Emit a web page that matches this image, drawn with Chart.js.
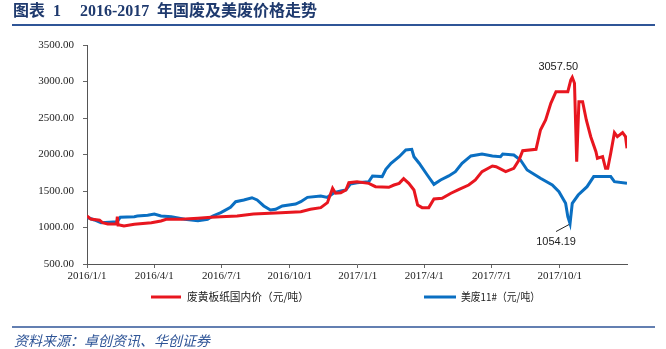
<!DOCTYPE html>
<html>
<head>
<meta charset="utf-8">
<script src="https://cdn.jsdelivr.net/npm/chart.js@4/dist/chart.umd.min.js"></script>
<style>
  html, body { margin: 0; padding: 0; background: #fff; }
  #wrap { width: 666px; height: 349px; position: relative; }
</style>
</head>
<body>
<div id="wrap"><canvas id="c" width="666" height="349"></canvas></div>
<script>
// 废黄板纸国内价（元/吨）
const redDates = [
  '2016-01-01','2016-01-06','2016-01-18','2016-01-22','2016-01-29','2016-02-10','2016-02-11','2016-02-12',
  '2016-02-14','2016-02-20','2016-03-05','2016-03-28','2016-04-10','2016-04-17','2016-05-07','2016-05-30',
  '2016-06-17','2016-06-30','2016-07-22','2016-08-13','2016-09-19','2016-10-16','2016-10-29','2016-11-12',
  '2016-11-21','2016-11-28','2016-12-02','2016-12-09','2016-12-16','2016-12-20','2016-12-31',
  '2017-01-16','2017-01-25','2017-02-12','2017-02-19','2017-02-26','2017-03-04','2017-03-11','2017-03-18',
  '2017-03-23','2017-03-29','2017-04-07','2017-04-14','2017-04-25','2017-05-07','2017-05-18','2017-05-31',
  '2017-06-09','2017-06-18','2017-07-02','2017-07-07','2017-07-20','2017-07-31','2017-08-07','2017-08-12',
  '2017-08-30','2017-09-05','2017-09-12','2017-09-19','2017-09-26','2017-10-12','2017-10-16','2017-10-18',
  '2017-10-21','2017-10-24','2017-10-27','2017-11-01','2017-11-06','2017-11-12','2017-11-19','2017-11-21',
  '2017-11-28','2017-12-02','2017-12-05','2017-12-09','2017-12-14','2017-12-18','2017-12-25','2017-12-29',
  '2017-12-31'
];
const redValues = [
  1158,1116,1100,1066,1048,1048,1150,1034,
  1034,1020,1044,1066,1089,1112,1112,1126,
  1140,1148,1158,1185,1203,1217,1249,1272,
  1340,1537,1469,1477,1514,1614,1628,
  1605,1559,1550,1582,1605,1669,1605,1514,
  1308,1272,1272,1390,1400,1469,1523,1582,
  1651,1765,1843,1833,1765,1811,1925,2052,
  2071,2336,2473,2701,2861,2861,3021,3057.5,
  2976,1902,2724,2724,2473,2244,2039,1948,
  1970,1811,1811,2016,2299,2244,2299,2244,
  2085
];

// 美废11#（元/吨）
const blueDates = [
  '2016-01-01','2016-01-11','2016-01-20','2016-02-11','2016-02-15','2016-03-05','2016-03-09','2016-03-23',
  '2016-04-01','2016-04-10','2016-04-24','2016-05-12','2016-05-30','2016-06-12','2016-06-19','2016-06-30',
  '2016-07-13','2016-07-20','2016-07-31','2016-08-11','2016-08-18','2016-08-27','2016-09-05','2016-09-12',
  '2016-09-21','2016-10-09','2016-10-16','2016-10-25','2016-11-12','2016-11-21','2016-11-30','2016-12-09',
  '2016-12-16','2016-12-22','2016-12-31',
  '2017-01-16','2017-01-21','2017-02-03','2017-02-08','2017-02-15','2017-02-26','2017-03-07','2017-03-15',
  '2017-03-18','2017-03-25','2017-04-05','2017-04-14','2017-04-23','2017-05-04','2017-05-13','2017-05-22',
  '2017-06-03','2017-06-18','2017-07-02','2017-07-13','2017-07-16','2017-07-31','2017-08-09','2017-08-18',
  '2017-09-05','2017-09-21','2017-09-30','2017-10-09','2017-10-12','2017-10-15','2017-10-18','2017-10-26',
  '2017-11-07','2017-11-16','2017-12-09','2017-12-14','2017-12-31'
];
const blueValues = [
  1140,1103,1066,1080,1140,1148,1158,1167,
  1185,1158,1148,1112,1093,1112,1158,1203,
  1277,1354,1377,1408,1377,1295,1240,1249,
  1295,1322,1354,1413,1431,1413,1477,1500,
  1514,1596,1614,
  1628,1706,1697,1797,1880,1970,2062,2071,
  1970,1880,1719,1591,1651,1706,1765,1880,
  1980,2007,1980,1970,2007,1993,1925,1788,
  1674,1582,1491,1331,1148,1054.19,1331,1445,
  1559,1697,1697,1628,1605
];

const xTickLabels = ['2016/1/1','2016/4/1','2016/7/1','2016/10/1','2017/1/1','2017/4/1','2017/7/1','2017/10/1'];
const yTickValues = [500, 1000, 1500, 2000, 2500, 3000, 3500];

const seriesNames = ['废黄板纸国内价（元/吨）', '美废11#（元/吨）'];
const seriesColors = ['#e8161f', '#0a6fc2'];

const BASE = Date.UTC(2016, 0, 1);
function dayOffset(s) {
  const p = s.split(/[-\/]/).map(Number);
  return Math.round((Date.UTC(p[0], p[1] - 1, p[2]) - BASE) / 86400000);
}
const X_END = dayOffset('2017-12-31');
const xTickDays = xTickLabels.map(dayOffset);

function toPoints(dates, values) {
  return dates.map((d, i) => ({ x: dayOffset(d), y: values[i] }));
}

const serif = "'Liberation Serif', 'Times New Roman', serif";
const cjk = "'Noto Sans CJK SC', sans-serif";

// draw text squeezed to a given width when it would run longer
function fitText(ctx, text, x, y, maxW) {
  const w = ctx.measureText(text).width;
  if (w <= maxW) { ctx.fillText(text, x, y); return; }
  ctx.save();
  ctx.translate(x, y);
  ctx.scale(maxW / w, 1);
  ctx.fillText(text, 0, 0);
  ctx.restore();
}

// Frame: title, rules, source line, legend and the two value callouts
const decor = {
  id: 'decor',
  afterDatasetsDraw(chart) {
    const ctx = chart.ctx;
    const xs = chart.scales.x, ys = chart.scales.y;
    ctx.save();

    // title
    ctx.fillStyle = '#1f3a6e';
    ctx.textBaseline = 'middle';
    ctx.textAlign = 'left';
    ctx.font = "bold 16px " + serif + ", " + cjk;
    ctx.fillText('图表', 13, 12);
    ctx.fillText('1', 53, 12);
    ctx.fillText('2016-2017', 80, 12);
    ctx.fillText('年国废及美废价格走势', 157, 12);

    // rule under title
    ctx.strokeStyle = '#2f5597';
    ctx.lineWidth = 2;
    ctx.beginPath(); ctx.moveTo(12, 25); ctx.lineTo(655, 25); ctx.stroke();

    // rule above source
    ctx.lineWidth = 1.5;
    ctx.beginPath(); ctx.moveTo(12, 327); ctx.lineTo(655, 327); ctx.stroke();

    // source
    ctx.fillStyle = '#2f5597';
    ctx.font = "italic 14px " + cjk;
    ctx.fillText('资料来源：卓创资讯、华创证券', 14, 341);

    // legend
    const legendItems = [
      { x0: 151, x1: 181, tx: 187, w: 122 },
      { x0: 424, x1: 456, tx: 461, w: 79 }
    ];
    ctx.font = "11px " + cjk;
    legendItems.forEach((it, i) => {
      ctx.strokeStyle = seriesColors[i];
      ctx.lineWidth = 3;
      ctx.beginPath(); ctx.moveTo(it.x0, 297); ctx.lineTo(it.x1, 297); ctx.stroke();
      ctx.fillStyle = '#222';
      fitText(ctx, seriesNames[i], it.tx, 297, it.w);
    });

    // peak of the domestic price
    let iMax = 0;
    redValues.forEach((v, i) => { if (v > redValues[iMax]) iMax = i; });
    const px = xs.getPixelForValue(dayOffset(redDates[iMax]));
    const py = ys.getPixelForValue(redValues[iMax]);
    ctx.font = "11px 'Liberation Sans', Arial, sans-serif";
    ctx.fillStyle = '#222';
    ctx.textAlign = 'center';
    ctx.fillText(redValues[iMax].toFixed(2), px - 14, py - 10);

    // trough of the imported price
    let iMin = 0;
    blueValues.forEach((v, i) => { if (v < blueValues[iMin]) iMin = i; });
    const qx = xs.getPixelForValue(dayOffset(blueDates[iMin]));
    const qy = ys.getPixelForValue(blueValues[iMin]);
    ctx.strokeStyle = '#222';
    ctx.lineWidth = 1;
    ctx.beginPath(); ctx.moveTo(qx - 1, qy + 1); ctx.lineTo(qx - 14, qy + 8); ctx.stroke();
    ctx.fillText(blueValues[iMin].toFixed(2), qx - 14, qy + 18);

    ctx.restore();
  }
};

new Chart(document.getElementById('c'), {
  type: 'line',
  data: {
    datasets: [
      {
        label: seriesNames[0],
        data: toPoints(redDates, redValues),
        borderColor: seriesColors[0],
        borderWidth: 3,
        pointRadius: 0,
        tension: 0,
        fill: false
      },
      {
        label: seriesNames[1],
        data: toPoints(blueDates, blueValues),
        borderColor: seriesColors[1],
        borderWidth: 3,
        pointRadius: 0,
        tension: 0,
        fill: false
      }
    ]
  },
  options: {
    responsive: false,
    animation: false,
    devicePixelRatio: 1,
    layout: { padding: { left: 0, top: 45, right: 39, bottom: 65 } },
    plugins: {
      legend: { display: false },
      tooltip: { enabled: false },
      title: { display: false }
    },
    scales: {
      x: {
        type: 'linear',
        min: 0,
        max: X_END,
        afterBuildTicks(scale) {
          scale.ticks = xTickDays.map(v => ({ value: v }));
        },
        afterFit(scale) { scale.height = 20; },
        ticks: {
          autoSkip: false,
          maxRotation: 0,
          padding: 2,
          color: '#222',
          font: { family: serif, size: 11 },
          callback(v) {
            const i = xTickDays.indexOf(v);
            return i >= 0 ? xTickLabels[i] : '';
          }
        },
        grid: { drawOnChartArea: false, drawTicks: true, tickLength: 4, color: '#666' },
        border: { display: true, color: '#555', width: 1 }
      },
      y: {
        min: 500,
        max: 3500,
        afterBuildTicks(scale) {
          scale.ticks = yTickValues.map(v => ({ value: v }));
        },
        afterFit(scale) { scale.width = 87; },
        ticks: {
          padding: 9,
          color: '#222',
          font: { family: serif, size: 11 },
          callback(v) { return Number(v).toFixed(2); }
        },
        grid: { drawOnChartArea: false, drawTicks: true, tickLength: 4, color: '#666' },
        border: { display: true, color: '#555', width: 1 }
      }
    }
  },
  plugins: [decor]
});
</script>
</body>
</html>
